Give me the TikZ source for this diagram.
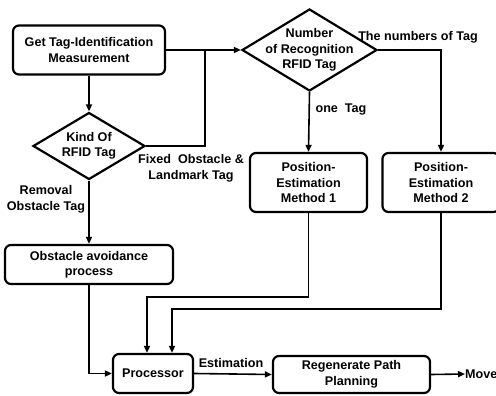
\documentclass[tikz,border=0pt]{standalone}
\usepackage{fontspec}
\setmainfont{Liberation Sans}
\usetikzlibrary{shapes.geometric, arrows.meta}

\begin{document}
\begin{tikzpicture}[x=1pt, y=-1pt,
  every node/.style={font=\bfseries\fontsize{12.6}{15.5}\selectfont, align=center},
  block/.style={draw, line width=2.2pt, rounded corners=6pt, inner sep=0pt},
  decision/.style={draw, diamond, line width=2.2pt, inner sep=0pt},
  flow/.style={line width=1.6pt, -{Triangle[length=7pt,width=6pt]}},
  wire/.style={line width=1.6pt}]
\useasboundingbox (0,0) rectangle (496,396);

% boxes and decisions
\node[block, minimum width=152, minimum height=49] (get) at (89,50) {Get Tag-Identification\\Measurement};
\node[decision, minimum width=112, minimum height=67] (kind) at (89,146) {};
\node (kindtxt) at (kind) {Kind Of\\RFID Tag};
\node[decision, minimum width=135, minimum height=82] (num) at (309.5,50) {};
\node (numtxt) at (num) {Number\\of Recognition\\RFID Tag};
\node[block, minimum width=117, minimum height=59] (pem1) at (308.5,182.5) {Position-\\Estimation\\Method 1};
\node[block, minimum width=117, minimum height=59] (pem2) at (441,182.5) {Position-\\Estimation\\Method 2};
\node[block, minimum width=168, minimum height=39] (avoid) at (89,264.5) {Obstacle avoidance\\process};
\node[block, minimum width=80, minimum height=39] (proc) at (153,373.5) {Processor};
\node[block, minimum width=157, minimum height=37] (regen) at (351.5,374.5) {Regenerate Path\\Planning};
\node[anchor=west, inner sep=0pt] (move) at (465,374) {Move};

% labels
\node (fixed) at (191,168.5) {Fixed\ \ Obstacle \&\\Landmark Tag};
\node (removal) at (46,199.5) {Removal\\Obstacle Tag};
\node (numbers) at (418,37) {The numbers of Tag};
\node (one) at (341,110) {one\ \ Tag};
\node (est) at (231,363) {Estimation};

% connectors
\coordinate (jn) at (205,50);
\coordinate (bend1) at (147,297);
\coordinate (bend2) at (172,309);

\draw[flow] (get) -- (kind);
\draw[flow] (get.east) -- (num.west);
\draw[wire] (kind.east) -| (jn);
\draw[flow] (num.east) -| (pem2.north);
\draw[flow] (num.south) -- (pem1.north);
\draw[flow] (kind.south) -- (avoid.north);
\draw[flow] (avoid.south) |- (proc.west);
\draw[flow] (pem1.south) |- (bend1) -- (bend1 |- proc.north);
\draw[flow] (pem2.south) |- (bend2) -- (bend2 |- proc.north);
\draw[flow] (proc.east) -- (regen.west);
\draw[flow] (regen.east) -- (move.west);
\end{tikzpicture}
\end{document}
